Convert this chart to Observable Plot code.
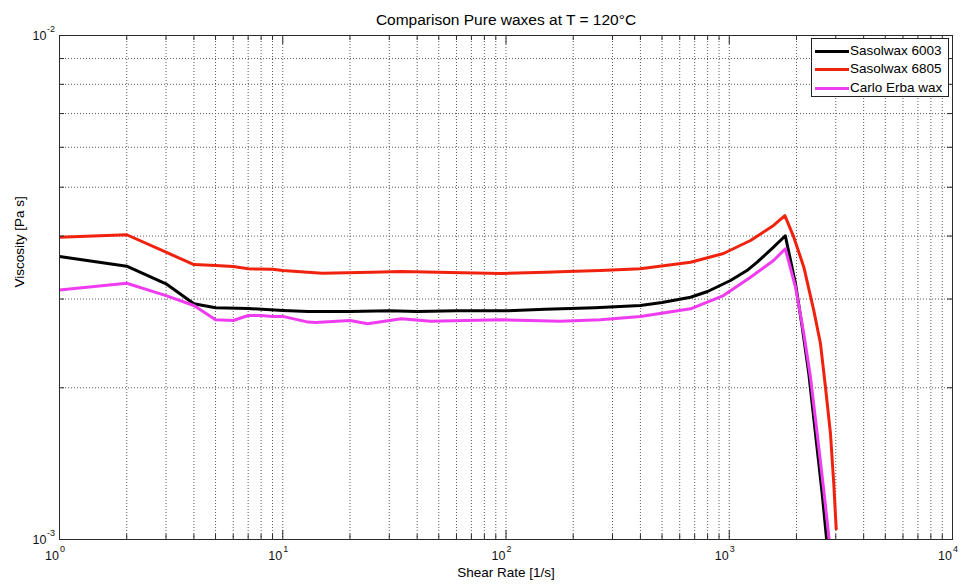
<!DOCTYPE html>
<html>
<head>
<meta charset="utf-8">
<script src="https://cdn.jsdelivr.net/npm/d3@7"></script>
<script src="https://cdn.jsdelivr.net/npm/@observablehq/plot@0.6"></script>
<style>
  body { margin: 0; background: #fff; }
  #wrap { position: relative; width: 962px; height: 585px; font-family: "Liberation Sans", Arial, sans-serif; }
  #legend { position: absolute; left: 811px; top: 38px; width: 138px; height: 59px; border: 1px solid #222; background: #fff; box-sizing: border-box; }
  .row { position: absolute; left: 0; height: 18px; width: 136px; }
  .sw { position: absolute; left: 3px; top: 8px; width: 34px; height: 3px; }
  .lb { position: absolute; left: 38px; top: 0; font-size: 13.5px; line-height: 18px; color: #000; white-space: nowrap; }
</style>
</head>
<body>
<div id="wrap"></div>
<script>
// ---- data ----
const seriesNames = ["Sasolwax 6003", "Sasolwax 6805", "Carlo Erba wax"];
const seriesColors = ["#000000", "#f0220e", "#f03cf0"];

const rate6003 = [1, 2, 3, 4, 5, 7, 10, 13, 20, 30, 40, 60, 100, 150, 250, 400, 500, 671, 800, 1013, 1200, 1334, 1579, 1783, 1981, 2123, 2272, 2434, 2608, 2746];
const visc6003 = [0.003642, 0.003485, 0.003216, 0.002935, 0.002882, 0.002873, 0.002848, 0.002835, 0.002835, 0.002842, 0.002835, 0.002842, 0.002842, 0.002862, 0.002882, 0.002913, 0.002952, 0.003025, 0.003105, 0.003265, 0.003417, 0.00355, 0.003802, 0.004005, 0.003216, 0.002637, 0.002132, 0.001621, 0.001232, 0.000973];

const rate6805 = [1, 2, 3, 4, 5, 6, 7, 9, 10, 15, 25, 34, 56, 95, 150, 189, 265, 400, 671, 942, 1245, 1579, 1775, 1946, 2158, 2391, 2563, 2698, 2841, 2939, 3013];
const visc6805 = [0.00398, 0.004024, 0.003715, 0.003512, 0.003497, 0.00348, 0.003444, 0.003438, 0.003417, 0.003376, 0.00339, 0.003402, 0.003387, 0.003372, 0.00339, 0.003402, 0.003417, 0.003444, 0.00355, 0.003694, 0.00392, 0.004198, 0.00439, 0.00398, 0.00347, 0.002848, 0.002445, 0.002005, 0.001621, 0.00129, 0.00105];

const rateCarlo = [1, 2, 3, 4, 5, 6, 7, 8, 9, 10, 13, 14, 20, 24, 34, 46, 95, 175, 265, 400, 671, 942, 1245, 1579, 1783, 1981, 2158, 2311, 2477, 2651, 2821];
const viscCarlo = [0.003128, 0.003225, 0.003048, 0.002913, 0.002729, 0.00272, 0.002783, 0.002783, 0.002771, 0.002771, 0.0027, 0.002695, 0.00272, 0.002679, 0.002741, 0.002711, 0.002729, 0.002711, 0.002729, 0.00277, 0.002869, 0.003048, 0.003315, 0.003578, 0.003774, 0.003166, 0.00256, 0.002099, 0.001621, 0.001251, 0.000973];

const xTickExponents = [0, 1, 2, 3, 4];
const yTickExponents = [-3, -2];
const minorMultipliers = [2, 3, 4, 5, 6, 7, 8, 9];

const titleText = "Comparison Pure waxes at T = 120°C";
const xLabelText = "Shear Rate [1/s]";
const yLabelText = "Viscosity [Pa s]";

// ---- derived tables ----
const rates = [rate6003, rate6805, rateCarlo];
const viscs = [visc6003, visc6805, viscCarlo];
const rows = [];
seriesNames.forEach((name, i) => rates[i].forEach((r, j) => rows.push({series: name, rate: r, visc: viscs[i][j]})));

const xMajor = xTickExponents.map(e => 10 ** e);
const xMinor = xTickExponents.slice(0, -1).flatMap(e => minorMultipliers.map(m => m * 10 ** e));
const yMajor = yTickExponents.map(e => 10 ** e);
const yMinor = yTickExponents.slice(0, -1).flatMap(e => minorMultipliers.map(m => m * 10 ** e));
const xInnerMajor = xMajor.slice(1, -1);

const W = 962, H = 585, mL = 59, mR = 10, mT = 35, mB = 46;
const fw = W - mL - mR, fh = H - mT - mB;
const majorLen = 9, minorLen = 5;
const gridStyle = {stroke: "#5a5a5a", strokeDasharray: "1,2", strokeWidth: 1};
const tickStyle = {stroke: "#2a2a2a", strokeWidth: 1};
const font = "'Liberation Sans', Arial, sans-serif";

const chart = Plot.plot({
  width: W, height: H,
  marginLeft: mL, marginRight: mR, marginTop: mT, marginBottom: mB,
  x: {type: "log", domain: [1, 1e4], axis: null},
  y: {type: "log", domain: [1e-3, 1e-2], axis: null},
  color: {domain: seriesNames, range: seriesColors},
  style: {fontFamily: font, background: "#fff", overflow: "visible"},
  marks: [
    // grid
    Plot.ruleX(xMinor, {x: d => d, ...gridStyle}),
    Plot.ruleX(xInnerMajor, {x: d => d, ...gridStyle}),
    Plot.ruleY(yMinor, {y: d => d, ...gridStyle}),
    // data
    Plot.line(rows, {x: "rate", y: "visc", stroke: "series", z: "series", strokeWidth: 3, strokeLinejoin: "round", clip: true}),
    // ticks bottom/top
    Plot.tickX(xMajor, {x: d => d, insetTop: fh - majorLen, ...tickStyle}),
    Plot.tickX(xMajor, {x: d => d, insetBottom: fh - majorLen, ...tickStyle}),
    Plot.tickX(xMinor, {x: d => d, insetTop: fh - minorLen, ...tickStyle}),
    Plot.tickX(xMinor, {x: d => d, insetBottom: fh - minorLen, ...tickStyle}),
    // ticks left/right
    Plot.tickY(yMajor, {y: d => d, insetRight: fw - majorLen, ...tickStyle}),
    Plot.tickY(yMajor, {y: d => d, insetLeft: fw - majorLen, ...tickStyle}),
    Plot.tickY(yMinor, {y: d => d, insetRight: fw - minorLen, ...tickStyle}),
    Plot.tickY(yMinor, {y: d => d, insetLeft: fw - minorLen, ...tickStyle}),
    Plot.frame({stroke: "#2a2a2a", strokeWidth: 1}),
    // x tick labels
    Plot.text(xTickExponents, {x: e => 10 ** e, frameAnchor: "bottom", text: () => "10", textAnchor: "end", lineAnchor: "bottom", dx: -0.5, dy: 20, fontSize: 12.5, fill: "#111"}),
    Plot.text(xTickExponents, {x: e => 10 ** e, frameAnchor: "bottom", text: e => String(e), textAnchor: "start", lineAnchor: "bottom", dx: 0.5, dy: 12, fontSize: 9, fill: "#111"}),
    // y tick labels
    Plot.text(yTickExponents, {y: e => 10 ** e, frameAnchor: "left", text: () => "10", textAnchor: "end", lineAnchor: "bottom", dx: -13, dy: 4.5, fontSize: 12.5, fill: "#111"}),
    Plot.text(yTickExponents, {y: e => 10 ** e, frameAnchor: "left", text: e => String(e), textAnchor: "start", lineAnchor: "bottom", dx: -12.5, dy: -4, fontSize: 9, fill: "#111"}),
    // title and axis labels
    Plot.text([titleText], {frameAnchor: "top", text: d => d, lineAnchor: "bottom", dy: -11, fontSize: 15.5, fill: "#000"}),
    Plot.text([xLabelText], {frameAnchor: "bottom", text: d => d, lineAnchor: "bottom", dy: 37.5, fontSize: 13.5, fill: "#000"}),
    Plot.text([yLabelText], {frameAnchor: "left", text: d => d, rotate: -90, lineAnchor: "middle", dx: -40, fontSize: 13.5, fill: "#000"})
  ]
});

const wrap = document.getElementById("wrap");
wrap.appendChild(chart);

// legend (HTML overlay)
const legend = document.createElement("div");
legend.id = "legend";
seriesNames.forEach((name, i) => {
  const row = document.createElement("div");
  row.className = "row";
  row.style.top = (3 + i * 18.3) + "px";
  const sw = document.createElement("div");
  sw.className = "sw";
  sw.style.background = seriesColors[i];
  const lb = document.createElement("div");
  lb.className = "lb";
  lb.textContent = name;
  row.appendChild(sw);
  row.appendChild(lb);
  legend.appendChild(row);
});
wrap.appendChild(legend);
</script>
</body>
</html>
